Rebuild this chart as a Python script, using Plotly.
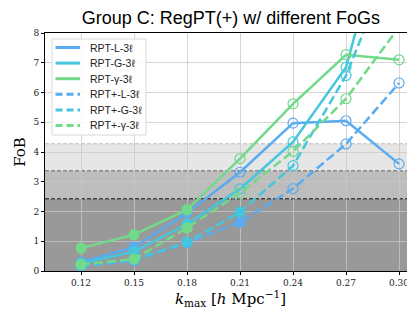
import plotly.graph_objects as go

k = [0.12, 0.15, 0.18, 0.21, 0.24, 0.27, 0.30]
tick_labels = ["0.12", "0.15", "0.18", "0.21", "0.24", "0.27", "0.30"]

rpt_L = [0.30, 0.80, 1.95, 3.32, 4.97, 5.05, 3.60]
rpt_G = [0.25, 0.65, 1.58, 2.76, 4.34, 6.85, 13.4]
rpt_g = [0.77, 1.22, 2.06, 3.78, 5.62, 7.27, 7.10]
rptp_L = [0.15, 0.35, 0.95, 1.64, 2.77, 4.27, 6.32]
rptp_G = [0.18, 0.38, 0.97, 1.98, 3.54, 6.57, 11.0]
rptp_g = [0.22, 0.40, 1.45, 2.62, 4.02, 5.79, 8.2]

names = ["RPT-L-3ℓ", "RPT-G-3ℓ", "RPT-γ-3ℓ", "RPT+-L-3ℓ", "RPT+-G-3ℓ", "RPT+-γ-3ℓ"]
series = [rpt_L, rpt_G, rpt_g, rptp_L, rptp_G, rptp_g]

band_levels = [2.43, 3.37, 4.28]
band_fills = ["#999999", "#bdbdbd", "#e6e6e6"]
band_edges = ["#444444", "#888888", "#cccccc"]

col_L = "#5aabf0"
col_G = "#45c6dc"
col_g = "#72d98a"
colors = [col_L, col_G, col_g, col_L, col_G, col_g]
dashes = ["solid", "solid", "solid", "9px,4px", "9px,4px", "9px,4px"]

# plot area geometry (px)
W, H = 415, 310
ML, MR, MT, MB = 37, 7, 25, 47
PW, PH = W - ML - MR, H - MT - MB

def dx(px):
    return (px - ML) / PW

def dy(py):
    return (H - MB - py) / PH

fig = go.Figure()

for name, ys, c, d in zip(names, series, colors, dashes):
    symbols = ["circle" if v < band_levels[0] else "circle-open" for v in ys]
    fig.add_trace(go.Scatter(
        x=k, y=ys, mode="lines+markers", showlegend=False, name=name,
        line=dict(color=c, width=2.5, dash=d),
        marker=dict(symbol=symbols, size=10, color=c, line=dict(color=c, width=1.2)),
    ))

prev = 0
for lvl, fc in zip(band_levels, band_fills):
    fig.add_shape(type="rect", xref="x domain", yref="y", x0=0, x1=1, y0=prev, y1=lvl,
                  fillcolor=fc, line=dict(width=0), layer="below")
    prev = lvl
for lvl, ec in zip(band_levels, band_edges):
    fig.add_shape(type="line", xref="x domain", yref="y", x0=0, x1=1, y0=lvl, y1=lvl,
                  line=dict(color=ec, width=1.5, dash="4px,2px"), layer="below")

# manual compact legend
fig.add_shape(type="rect", xref="x domain", yref="y domain",
              x0=dx(44), x1=dx(138), y0=dy(127), y1=dy(31),
              fillcolor="rgba(255,255,255,0.85)", line=dict(color="#d8d8d8", width=1),
              layer="above")
for i, (name, c, d) in enumerate(zip(names, colors, dashes)):
    yc = 39.5 + 15.6 * i
    fig.add_shape(type="line", xref="x domain", yref="y domain",
                  x0=dx(47.5), x1=dx(72), y0=dy(yc), y1=dy(yc),
                  line=dict(color=c, width=3, dash=("7px,4px" if d != "solid" else "solid")),
                  layer="above")
    fig.add_annotation(xref="x domain", yref="y domain", x=dx(80), y=dy(yc),
                       text=name, showarrow=False, xanchor="left", yanchor="middle",
                       font=dict(family="Liberation Sans", size=10.5, color="#222"))

serif = "DejaVu Serif"
fig.update_layout(
    width=W, height=H,
    margin=dict(l=ML, r=MR, t=MT, b=MB),
    paper_bgcolor="white", plot_bgcolor="white",
    showlegend=False,
    title=dict(text="Group C: RegPT(+) w/ different FoGs", x=0.537, xanchor="center",
               y=0.99, yanchor="top",
               font=dict(family="Liberation Sans", size=18, color="black")),
    xaxis=dict(range=[0.0996, 0.3096], tickvals=k, ticktext=tick_labels,
               showgrid=True, gridcolor="rgba(200,200,200,0.75)", gridwidth=1,
               showline=True, linecolor="black", linewidth=1, mirror=True,
               ticks="outside", ticklen=3, tickcolor="black",
               tickfont=dict(family=serif, size=9, color="#222"),
               zeroline=False,
               title=dict(text="<i>k</i><sub>max</sub> [<i>h</i> Mpc<sup>−1</sup>]",
                          font=dict(family=serif, size=15, color="black"), standoff=6)),
    yaxis=dict(range=[0, 8], tickvals=[0, 1, 2, 3, 4, 5, 6, 7, 8],
               showgrid=True, gridcolor="rgba(200,200,200,0.75)", gridwidth=1,
               showline=True, linecolor="black", linewidth=1, mirror=True,
               ticks="outside", ticklen=3, tickcolor="black",
               tickfont=dict(family=serif, size=9, color="#222"),
               zeroline=False,
               title=dict(text="FoB", font=dict(family=serif, size=15, color="black"), standoff=4)),
)

fig.write_html("out.html")
